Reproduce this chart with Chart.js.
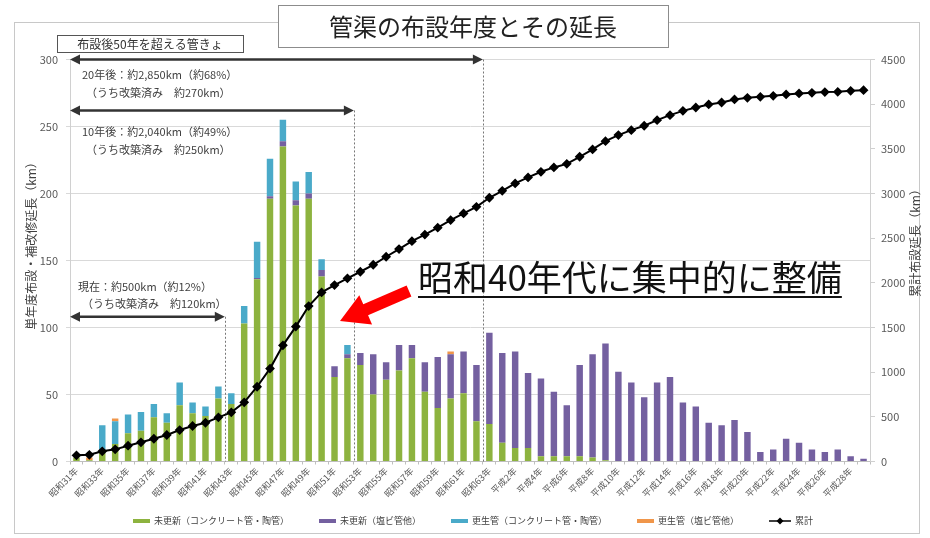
<!DOCTYPE html>
<html lang="ja">
<head>
<meta charset="utf-8">
<title>管渠の布設年度とその延長</title>
<script src="https://cdn.jsdelivr.net/npm/chart.js@4.4.1/dist/chart.umd.min.js"></script>
<style>
  html, body { margin: 0; padding: 0; background: #fff; }
  #wrap { width: 930px; height: 538px; }
</style>
</head>
<body>
<div id="wrap"><canvas id="myChart" width="930" height="538"></canvas></div>
<script>
// 年度（昭和31年〜平成29年）
let years = [
    "昭和31年", "昭和32年", "昭和33年", "昭和34年", "昭和35年", "昭和36年", "昭和37年", "昭和38年",
    "昭和39年", "昭和40年", "昭和41年", "昭和42年", "昭和43年", "昭和44年", "昭和45年", "昭和46年",
    "昭和47年", "昭和48年", "昭和49年", "昭和50年", "昭和51年", "昭和52年", "昭和53年", "昭和54年",
    "昭和55年", "昭和56年", "昭和57年", "昭和58年", "昭和59年", "昭和60年", "昭和61年", "昭和62年",
    "昭和63年", "平成元年", "平成2年", "平成3年", "平成4年", "平成5年", "平成6年", "平成7年",
    "平成8年", "平成9年", "平成10年", "平成11年", "平成12年", "平成13年", "平成14年", "平成15年",
    "平成16年", "平成17年", "平成18年", "平成19年", "平成20年", "平成21年", "平成22年", "平成23年",
    "平成24年", "平成25年", "平成26年", "平成27年", "平成28年", "平成29年"
];

// 単年度延長 (km)
let concreteOld = [
    3, 1, 7, 13, 21, 23, 33, 29, 42, 36, 34, 47, 43, 103, 136, 196,
    235, 191, 196, 138, 63, 77, 72, 50, 61, 68, 77, 52, 40, 47, 51, 30,
    28, 14, 10, 10, 4, 4, 4, 4, 3, 1, 0, 0, 0, 0, 0, 0,
    0, 0, 0, 0, 0, 0, 0, 0, 0, 0, 0, 0, 0, 0
];
let pvcOld = [
    0, 0, 0, 0, 0, 0, 0, 0, 0, 0, 0, 0, 0, 0, 1, 2,
    4, 4, 4, 5, 8, 3, 9, 30, 13, 19, 10, 22, 38, 33, 31, 42,
    68, 67, 72, 56, 58, 48, 38, 68, 77, 87, 67, 59, 48, 59, 63, 44,
    41, 29, 27, 31, 22, 7, 9, 17, 14, 9, 7, 9, 4, 2
];
let concreteRenewed = [
    0, 0, 20, 17, 14, 14, 10, 7, 17, 8, 7, 9, 8, 13, 27, 28,
    16, 14, 16, 8, 0, 7, 0, 0, 0, 0, 0, 0, 0, 0, 0, 0,
    0, 0, 0, 0, 0, 0, 0, 0, 0, 0, 0, 0, 0, 0, 0, 0,
    0, 0, 0, 0, 0, 0, 0, 0, 0, 0, 0, 0, 0, 0
];
let pvcRenewed = [
    0, 2, 0, 2, 0, 0, 0, 0, 0, 0, 0, 0, 0, 0, 0, 0,
    0, 0, 0, 0, 0, 0, 0, 0, 0, 0, 0, 0, 0, 2, 0, 0,
    0, 0, 0, 0, 0, 0, 0, 0, 0, 0, 0, 0, 0, 0, 0, 0,
    0, 0, 0, 0, 0, 0, 0, 0, 0, 0, 0, 0, 0, 0
];

// 累計布設延長 (km)
let cumulative = [
    69, 75, 114, 136, 177, 215, 255, 297, 352, 397, 434, 494, 550, 662, 837, 1040,
    1300, 1510, 1740, 1893, 1975, 2050, 2124, 2202, 2292, 2378, 2466, 2540, 2618, 2702, 2777, 2851,
    2952, 3030, 3113, 3180, 3243, 3292, 3332, 3411, 3493, 3586, 3654, 3709, 3758, 3821, 3877, 3925,
    3963, 3997, 4019, 4053, 4071, 4082, 4093, 4109, 4120, 4127, 4135, 4138, 4149, 4157
];

let leftTicks = [0, 50, 100, 150, 200, 250, 300];
let rightTicks = [0, 500, 1000, 1500, 2000, 2500, 3000, 3500, 4000, 4500];

(function () {
    Chart.defaults.font.family = "'Noto Sans CJK JP', 'Noto Sans', sans-serif";
    Chart.defaults.color = "#595959";

    let ctx = document.getElementById("myChart").getContext("2d");

    function arrowHead(c, x, y, dir) {
        c.beginPath();
        c.moveTo(x, y);
        c.lineTo(x - dir * 10, y - 5);
        c.lineTo(x - dir * 10, y + 5);
        c.closePath();
        c.fill();
    }

    function doubleArrow(c, x1, x2, y) {
        c.save();
        c.strokeStyle = "#333";
        c.fillStyle = "#333";
        c.lineWidth = 2.5;
        c.beginPath();
        c.moveTo(x1 + 6, y);
        c.lineTo(x2 - 6, y);
        c.stroke();
        arrowHead(c, x1, y, -1);
        arrowHead(c, x2, y, 1);
        c.restore();
    }

    let overlay = {
        id: "overlay",
        beforeDatasetsDraw: function (chart) {
            let c = chart.ctx;
            let xs = chart.scales.x;
            let ys = chart.scales.y;
            let marks = [[11, 108], [21, 262], [31, 300]];
            c.save();
            c.strokeStyle = "#777";
            c.lineWidth = 1;
            c.setLineDash([2, 2]);
            marks.forEach(function (m) {
                let x = Math.round((xs.getPixelForValue(m[0]) + xs.getPixelForValue(m[0] + 1)) / 2) + 0.5;
                c.beginPath();
                c.moveTo(x, ys.getPixelForValue(m[1]));
                c.lineTo(x, chart.chartArea.bottom);
                c.stroke();
            });
            c.restore();
        },
        afterDraw: function (chart) {
            let c = chart.ctx;
            let xs = chart.scales.x;
            let ys = chart.scales.y;
            let area = chart.chartArea;

            // 外枠
            c.save();
            c.strokeStyle = "#c8c8c8";
            c.lineWidth = 1;
            c.strokeRect(14.5, 22.5, 905, 511);

            // タイトル
            c.fillStyle = "#fff";
            c.fillRect(278, 5, 390, 42);
            c.strokeStyle = "#8c8c8c";
            c.strokeRect(278.5, 5.5, 390, 42);
            c.fillStyle = "#222";
            c.font = "24px 'Noto Sans CJK JP'";
            c.textAlign = "center";
            c.textBaseline = "middle";
            c.fillText("管渠の布設年度とその延長", 473, 27);

            // 布設後50年
            c.fillStyle = "#fff";
            c.fillRect(57, 35, 186, 17);
            c.strokeStyle = "#555";
            c.strokeRect(57.5, 35.5, 186, 17);
            c.fillStyle = "#333";
            c.font = "12px 'Noto Sans CJK JP'";
            c.fillText("布設後50年を超える管きょ", 150, 44);

            // 矢印
            let xAt = function (i) {
                return (xs.getPixelForValue(i) + xs.getPixelForValue(i + 1)) / 2;
            };
            doubleArrow(c, area.left, xAt(31), ys.getPixelForValue(300));
            doubleArrow(c, area.left, xAt(21), ys.getPixelForValue(262));
            doubleArrow(c, area.left, xAt(11), ys.getPixelForValue(108));

            c.fillStyle = "#404040";
            c.font = "11px 'Noto Sans CJK JP'";
            c.textAlign = "left";
            c.fillText("20年後：約2,850km（約68%）", 82, 75);
            c.fillText("（うち改築済み　約270km）", 86, 93);
            c.fillText("10年後：約2,040km（約49%）", 82, 132);
            c.fillText("（うち改築済み　約250km）", 86, 150);
            c.fillText("現在：約500km（約12%）", 78, 287);
            c.fillText("（うち改築済み　約120km）", 82, 304);

            // 赤矢印
            let tip = [340, 321];
            let tail = [409, 291];
            let dx = tail[0] - tip[0], dy = tail[1] - tip[1];
            let len = Math.sqrt(dx * dx + dy * dy);
            let ux = dx / len, uy = dy / len;
            let nx = -uy, ny = ux;
            let hb = [tip[0] + ux * 28, tip[1] + uy * 28];
            c.fillStyle = "#ff0000";
            c.beginPath();
            c.moveTo(tip[0], tip[1]);
            c.lineTo(hb[0] + nx * 16, hb[1] + ny * 16);
            c.lineTo(hb[0] + nx * 6, hb[1] + ny * 6);
            c.lineTo(tail[0] + nx * 6, tail[1] + ny * 6);
            c.lineTo(tail[0] - nx * 6, tail[1] - ny * 6);
            c.lineTo(hb[0] - nx * 6, hb[1] - ny * 6);
            c.lineTo(hb[0] - nx * 16, hb[1] - ny * 16);
            c.closePath();
            c.fill();

            // 強調テキスト
            c.fillStyle = "#111";
            c.font = "35px 'Noto Sans CJK JP'";
            c.textBaseline = "alphabetic";
            c.fillText("昭和40年代に集中的に整備", 418, 291);
            let w = c.measureText("昭和40年代に集中的に整備").width;
            c.fillRect(418, 296, w, 2);

            // 軸タイトル
            c.fillStyle = "#404040";
            c.font = "12px 'Noto Sans CJK JP'";
            c.textAlign = "center";
            c.textBaseline = "middle";
            c.save();
            c.translate(31, 243);
            c.rotate(-Math.PI / 2);
            c.fillText("単年度布設・補改修延長（km）", 0, 0);
            c.restore();
            c.save();
            c.translate(915, 240);
            c.rotate(-Math.PI / 2);
            c.fillText("累計布設延長（km）", 0, 0);
            c.restore();

            // 凡例
            let lx = 133;
            let ly = 521;
            c.font = "9px 'Noto Sans CJK JP'";
            c.textAlign = "left";
            chart.data.datasets.forEach(function (ds) {
                if (ds.type === "line") {
                    c.strokeStyle = ds.borderColor;
                    c.lineWidth = 1.5;
                    c.beginPath();
                    c.moveTo(lx, ly);
                    c.lineTo(lx + 22, ly);
                    c.stroke();
                    c.fillStyle = ds.borderColor;
                    c.beginPath();
                    c.moveTo(lx + 11, ly - 3.5);
                    c.lineTo(lx + 14.5, ly);
                    c.lineTo(lx + 11, ly + 3.5);
                    c.lineTo(lx + 7.5, ly);
                    c.closePath();
                    c.fill();
                    lx += 26;
                } else {
                    c.fillStyle = ds.backgroundColor;
                    c.fillRect(lx, ly - 2, 17, 4);
                    lx += 21;
                }
                c.fillStyle = "#404040";
                c.fillText(ds.label, lx, ly);
                lx += c.measureText(ds.label).width + 30;
            });
            c.restore();
        }
    };

    let barCommon = {
        type: "bar",
        yAxisID: "y",
        stack: "s",
        order: 1,
        barPercentage: 0.5,
        categoryPercentage: 1.0
    };

    let plainNumber = function (value) {
        return String(value);
    };

    let myChart = new Chart(ctx, {
        data: {
            labels: years,
            datasets: [
                Object.assign({ label: "未更新（コンクリート管・陶管）", data: concreteOld, backgroundColor: "#8db33f" }, barCommon),
                Object.assign({ label: "未更新（塩ビ管他）", data: pvcOld, backgroundColor: "#7460a0" }, barCommon),
                Object.assign({ label: "更生管（コンクリート管・陶管）", data: concreteRenewed, backgroundColor: "#4aaac9" }, barCommon),
                Object.assign({ label: "更生管（塩ビ管他）", data: pvcRenewed, backgroundColor: "#f0964a" }, barCommon),
                {
                    type: "line",
                    label: "累計",
                    data: cumulative,
                    yAxisID: "y1",
                    order: 0,
                    borderColor: "#000",
                    backgroundColor: "#000",
                    borderWidth: 2,
                    pointStyle: "rectRot",
                    pointRadius: 3.5,
                    tension: 0
                }
            ]
        },
        options: {
            responsive: false,
            animation: false,
            devicePixelRatio: 1,
            layout: {
                padding: { left: 20, right: 6, top: 59.5, bottom: 30 }
            },
            plugins: {
                legend: { display: false },
                tooltip: { enabled: false }
            },
            scales: {
                x: {
                    stacked: true,
                    grid: { drawOnChartArea: false, drawTicks: true, tickLength: 3, color: "#bfbfbf" },
                    border: { color: "#bfbfbf" },
                    ticks: {
                        autoSkip: false,
                        maxRotation: 45,
                        minRotation: 45,
                        padding: 1,
                        font: { size: 9 },
                        callback: function (value, index) {
                            return index % 2 === 0 ? this.getLabelForValue(value) : "";
                        }
                    },
                    afterFit: function (scale) { scale.height = 46.5; }
                },
                y: {
                    stacked: true,
                    position: "left",
                    min: leftTicks[0],
                    max: leftTicks[leftTicks.length - 1],
                    afterBuildTicks: function (scale) {
                        scale.ticks = leftTicks.map(function (v) { return { value: v }; });
                    },
                    grid: { color: "#d9d9d9", tickLength: 4 },
                    border: { color: "#d0d0d0" },
                    ticks: { padding: 8, font: { size: 11 }, callback: plainNumber },
                    afterFit: function (scale) { scale.width = 50; }
                },
                y1: {
                    position: "right",
                    min: rightTicks[0],
                    max: rightTicks[rightTicks.length - 1],
                    afterBuildTicks: function (scale) {
                        scale.ticks = rightTicks.map(function (v) { return { value: v }; });
                    },
                    grid: { drawOnChartArea: false, tickLength: 5, color: "#d0d0d0" },
                    border: { color: "#d0d0d0" },
                    ticks: { padding: 6, font: { size: 11 }, callback: plainNumber },
                    afterFit: function (scale) { scale.width = 54; }
                }
            }
        },
        plugins: [overlay]
    });
})();
</script>
</body>
</html>
